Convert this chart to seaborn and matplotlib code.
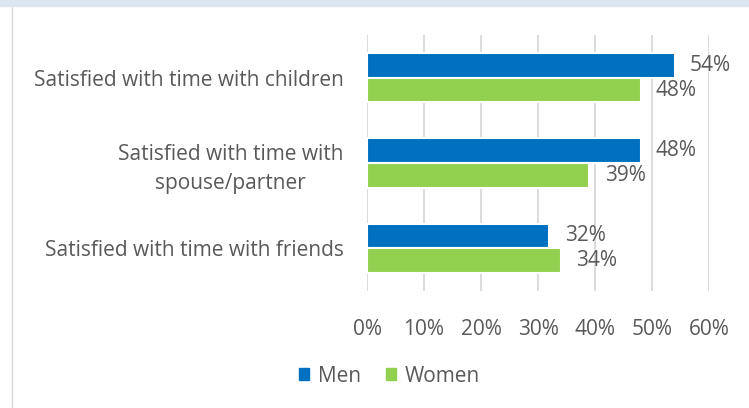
import numpy as np
import pandas as pd
import matplotlib.pyplot as plt
import seaborn as sns
from matplotlib.patches import Rectangle
from matplotlib.lines import Line2D

# data
categories = ['Satisfied with time with children',
              'Satisfied with time with\nspouse/partner',
              'Satisfied with time with friends']
men = [54, 48, 32]
women = [48, 39, 34]
groups = ['Men', 'Women']
ticks = [0, 10, 20, 30, 40, 50, 60]

df = pd.DataFrame({'cat': categories * 2,
                   'val': men + women,
                   'grp': ['Men'] * 3 + ['Women'] * 3})

sns.set_style('white')
plt.rcParams['font.family'] = ['Open Sans', 'DejaVu Sans']
txt = '#595959'
fs = 15

fig = plt.figure(figsize=(7.49, 4.08), dpi=100)
ax = fig.add_axes([0.49, 0.2868, 0.4566, 0.6274])

sns.barplot(data=df, y='cat', x='val', hue='grp', orient='h',
            palette=['#0070C0', '#92D050'], saturation=1, width=0.58,
            edgecolor='white', linewidth=1.5, ax=ax, legend=False)

# value labels
for cont in ax.containers:
    ax.bar_label(cont, labels=['%d%%' % v for v in cont.datavalues],
                 padding=11, fontsize=fs, color=txt)

ax.set_xlim(0, 60)
ax.set_xticks(ticks)
ax.set_xticklabels(['%d%%' % t for t in ticks], fontsize=fs, color=txt)
ax.tick_params(axis='x', length=0, pad=20)
ax.tick_params(axis='y', length=0, pad=17)
for lab in ax.get_yticklabels():
    lab.set_fontsize(fs)
    lab.set_color(txt)
    lab.set_horizontalalignment('right')
    lab.set_multialignment('center')
    lab.set_linespacing(1.45)
ax.set_xlabel('')
ax.set_ylabel('')
ax.grid(axis='x', color='#D9D9D9', linewidth=1.3)
ax.set_axisbelow(True)
for s in ax.spines.values():
    s.set_visible(False)

# legend
handles = [Rectangle((0, 0), 1, 1, color=c) for c in ['#0070C0', '#92D050']]
fig.legend(handles, groups, loc='center', bbox_to_anchor=(0.52, 0.078),
           ncol=2, frameon=False, fontsize=fs, labelcolor=txt,
           handlelength=0.5, handleheight=0.5, handletextpad=0.4,
           columnspacing=1.2)

# frame bits
fig.patches.append(Rectangle((0, 1 - 6 / 408), 1, 6 / 408, transform=fig.transFigure,
                             color='#DCE6F1', zorder=0))
fig.lines.append(Line2D([11.5 / 749, 11.5 / 749], [0, 1 - 7 / 408],
                        transform=fig.transFigure, color='#D9D9D9', linewidth=1))

fig.savefig('out.png', dpi=100)
